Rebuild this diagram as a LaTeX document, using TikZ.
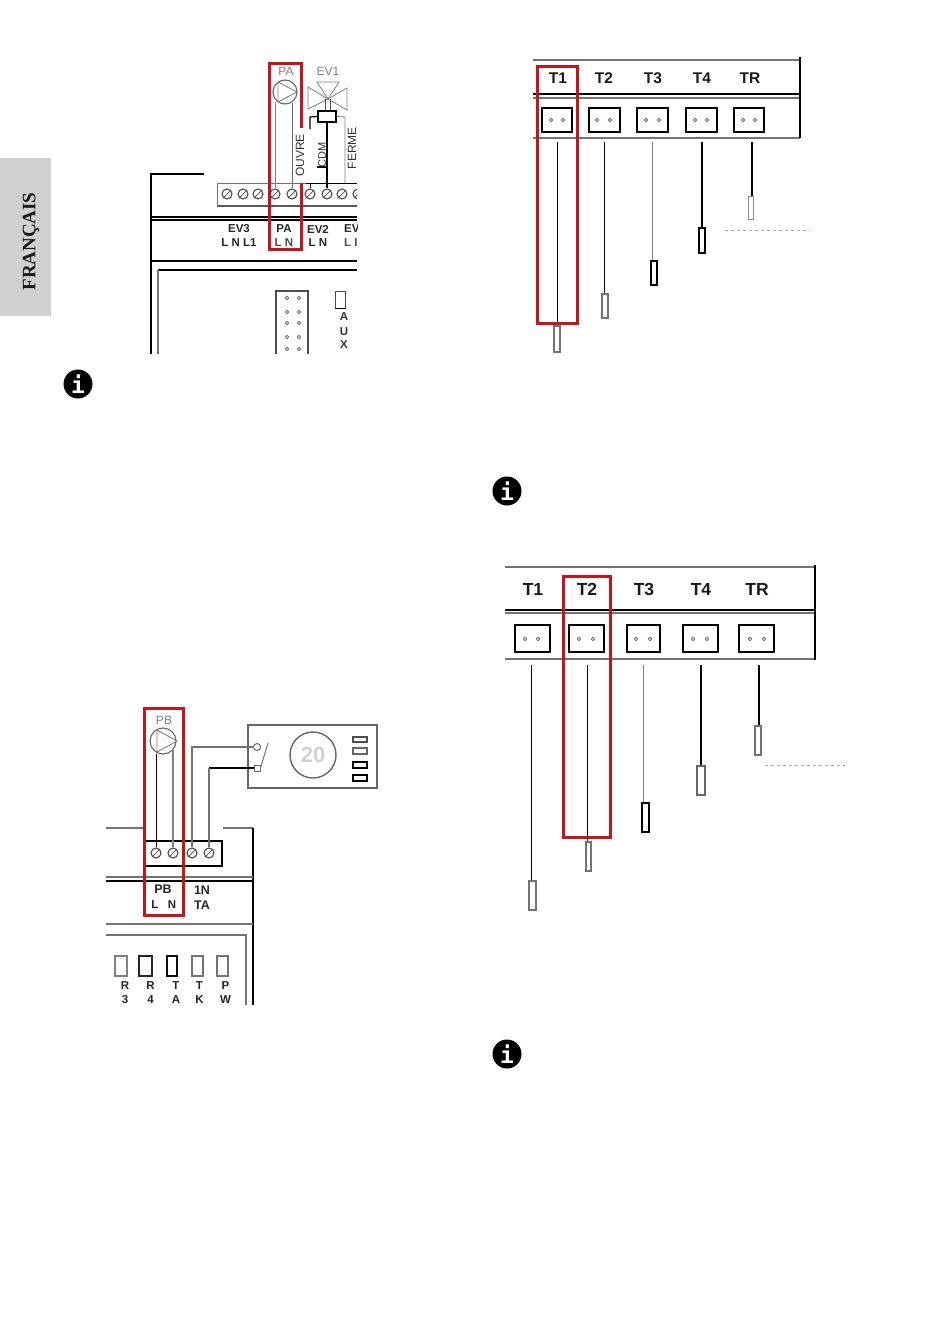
\documentclass[tikz,border=0pt]{standalone}
\usepackage{fontspec}
\usetikzlibrary{calc}
\setmainfont{Liberation Sans}
\newfontfamily\serifb{Liberation Serif}[Scale=1]
\newfontfamily\monob{DejaVu Sans Mono}
\definecolor{redbox}{HTML}{C4141C}
\definecolor{tabgray}{HTML}{D0D0D2}
\tikzset{
  x=1pt,y=-1pt,
  redframe/.style={draw=redbox,line width=3pt,fill=none},
  blk/.style={draw=black,line width=1.5pt},
  gry/.style={draw=black!55,line width=1.6pt},
  thinw/.style={draw=black,line width=0.9pt},
  thing/.style={draw=black!50,line width=0.9pt},
  thickw/.style={draw=black,line width=1.7pt},
  lab/.style={font=\bfseries\fontsize{11.5}{11.5}\selectfont,inner sep=0pt,text=black!85},
  tlab/.style={font=\bfseries\fontsize{15.5}{15.5}\selectfont,inner sep=0pt,text=black!90},
  tlabb/.style={font=\bfseries\fontsize{17.5}{17.5}\selectfont,inner sep=0pt,text=black!90},
  glab/.style={font=\fontsize{12}{12}\selectfont,inner sep=0pt,text=black!50},
  dotg/.style={circle,draw=black!55,line width=0.9pt,minimum size=3.6pt,inner sep=0pt},
  screw/.style={circle,draw=black!70,line width=1.1pt,minimum size=10pt,inner sep=0pt},
  slash/.style={draw=black!70,line width=0.7pt},
  faint/.style={draw=black!35,line width=0.6pt,dash pattern=on 3pt off 3pt},
  info/.style={circle,fill=black,minimum size=29pt,inner sep=0pt,text=white,font=\monob\bfseries\fontsize{23}{23}\selectfont},
}
\newcommand{\bx}[7][]{% style name x1 x2 y1 y2
  \node[rectangle,inner sep=0pt,#1,minimum width={(#4-#3)*1pt},minimum height={(#6-#5)*1pt}] (#2) at ({(#3+#4)/2},{(#5+#6)/2}) {#7};}
\newcommand{\termbox}[8]{% name x1 x2 y1 y2 dot1 dot2 dotY
  \bx[draw=black,line width=2pt]{#1}{#2}{#3}{#4}{#5}{}
  \node[dotg] (#1a) at (#6,#8) {};
  \node[dotg] (#1b) at (#7,#8) {};}
\begin{document}
\begin{tikzpicture}
\useasboundingbox (0,0) rectangle (950,1344);
\fill[white] (0,0) rectangle (950,1344);

% side tab
\bx[fill=tabgray]{tab}{0}{51}{158}{316}{}
\node[rotate=90,inner sep=0pt,text=black!90,font=\serifb\bfseries\fontsize{19}{19}\selectfont] (fr) at (31,241.5) {FRANÇAIS};

% info icons
\node[info] (i1) at (78,384) {i};
\node[info] (i2) at (507,491) {i};
\node[info] (i3) at (507,1054) {i};

% ===== top-left diagram =====
\begin{scope}
\clip (140,50) rectangle (357,354);
\draw[blk] (204,174) -- (151,174) -- (151,354);
\draw[blk] (151,217) -- (357,217);
\draw[blk] (151,220) -- (357,220);
\draw[blk] (151,261) -- (357,261);
\draw[blk] (158,270) -- (357,270);
\draw[gry] (158,270) -- (158,354);
% strip
\draw[gry,line width=1pt] (217,207) -- (217,183) -- (357,183);
\draw[draw=black!65,line width=2.5pt] (217,206) -- (357,206);
\foreach \n/\xx in {s1/227,s2/243,s3/258,s4/275,s5/292,s6/310,s7/327,s8/342,s9/358}{
  \node[screw] (\n) at (\xx,194) {};
  \draw[slash] (\n.south west) -- (\n.north east);
}
% labels
\node[lab] (ev3) at (239,229) {EV3};
\node[lab] (ev3l) at (239,243) {L N L1};
\node[lab] (pal) at (284,229) {PA};
\node[lab,text=black!70] (pan) at (284,243) {L N};
\node[lab] (ev2) at (318,229) {EV2};
\node[lab] (ev2l) at (318,243) {L N};
\node[lab,anchor=west] (evx) at (344,229) {EV};
\node[lab,anchor=west,text=black!70] (evxl) at (344,243) {L I};
% connector block
\draw[draw=black!70,line width=2pt] (276,354) -- (276,291) -- (308,291) -- (308,354);
\foreach \n/\xx/\yy in {c1/287/298,c2/299/298,c3/287/312,c4/299/312,c5/287/323,c6/299/323,c7/287/337,c8/299/337,c9/287/349,c10/299/349}
  \node[dotg] (\n) at (\xx,\yy) {};
\bx[draw=black!70,line width=1pt]{aux}{335}{345}{291}{308}{}
\draw[blk] (aux.south west) -- (aux.south east);
\node[lab,text=black!80] (auxa) at (344,317) {A};
\node[lab,text=black!80] (auxu) at (344,332) {U};
\node[lab,text=black!80] (auxx) at (344,345) {X};
\end{scope}

% pump PA
\node[glab] (patxt) at (286,71) {PA};
\node[circle,draw=black!60,line width=1.1pt,minimum size=24pt,inner sep=0pt] (pa) at (285,92) {};
\draw[thing] (278,82) -- (278,102) -- (297,92) -- cycle;
\draw[thing] (s4.north) -- (s4.north |- pa.-125);
\draw[thing,draw=black!60] (s5.north) -- (s5.north |- pa.-60);
% valve EV1
\node[glab] (evtxt) at (328,71) {EV1};
\coordinate (vc) at (328,99);
\draw[draw=black!50,line width=0.8pt] (308,87) -- (308,109) -- (vc) -- cycle;
\draw[draw=black!50,line width=0.8pt] (347,88) -- (347,110) -- (vc) -- cycle;
\draw[draw=black!50,line width=0.8pt] (317,82) -- (339,82) -- (vc) -- cycle;
\draw[draw=black!70,line width=0.9pt] (325,99) -- (325,111) (330,99) -- (330,111);
\bx[draw=black,line width=1.2pt,fill=white]{act}{318}{336}{111}{122}{}
\draw[thickw,line width=1.2pt] (act.west) -- (310,117) -- (310,129);
\draw[thing] (act.east) -- (345,117) -- (345,183);
\draw[thickw] (act.south) -- (s7.north);
\draw[thinw] (s6.north) -- (310,183);
\draw[thickw,line width=1.2pt] (317,167) -- (327,167);
\draw[draw=black,line width=1pt] (306,183) -- (357,183);

% red frame PA
\draw[redframe] (269,63) rectangle (301,249);
% texts on white strips
\bx[fill=white]{ouvbg}{294}{306}{128}{183}{}
\node[rotate=90,inner sep=0pt,text=black!80,font=\fontsize{12}{12}\selectfont] (ouvre) at (ouvbg.center) {OUVRE};
\node[rotate=90,inner sep=0pt,text=black!80,font=\fontsize{11}{11}\selectfont] (cdm) at (322,155) {CDM};
\node[rotate=90,inner sep=1pt,fill=white,text=black!80,font=\fontsize{12}{12}\selectfont] (ferme) at (352,148) {FERME};

% ===== bottom-left diagram =====
\draw[gry] (106,828) -- (144,828);
\draw[gry] (223,828) -- (253,828);
\draw[blk] (253,828) -- (253,1005);
\draw[gry] (106,877) -- (253,877);
\draw[blk] (106,881) -- (253,881);
\draw[gry] (106,924) -- (253,924);
\draw[gry] (106,935) -- (246,935) -- (246,1005);
\bx[draw=black,line width=1.3pt]{tb}{145}{222}{841}{866}{}
\foreach \n/\xx in {p1/156,p2/173,p3/192,p4/209}{
  \node[screw] (\n) at (\xx,853) {};
  \draw[slash] (\n.south west) -- (\n.north east);
}
% pump PB
\node[glab] (pbtxt) at (164,720) {PB};
\node[circle,draw=black!60,line width=1.1pt,minimum size=26pt,inner sep=0pt] (pb) at (163,741) {};
\draw[thing] (157,730) -- (157,752) -- (177,741) -- cycle;
\draw[thinw] (p1.north) -- (p1.north |- pb.-110);
\draw[thing,line width=1.2pt] (p2.north) -- (p2.north |- pb.-40);
% thermostat
\bx[draw=black!60,line width=1.3pt]{ta}{248}{377}{725}{788}{}
\node[circle,draw=black!60,line width=1.4pt,minimum size=46pt,inner sep=0pt,text=black!18,font=\bfseries\fontsize{22}{22}\selectfont] (dial) at (313,755) {20};
\bx[draw=black!70,line width=1.2pt]{l1}{353}{367}{737}{742}{}
\bx[draw=black!60,line width=1.2pt]{l2}{353}{367}{748}{754}{}
\bx[draw=black,line width=1.2pt]{l3}{353}{367}{762}{768}{}
\bx[draw=black,line width=1.2pt]{l4}{353}{367}{775}{781}{}
\node[circle,draw=black!60,line width=1pt,minimum size=7pt,inner sep=0pt] (c1t) at (257,747) {};
\node[rectangle,draw=black!60,line width=1pt,minimum size=6pt,inner sep=0pt] (c2t) at (257,768) {};
\draw[thing,line width=1.1pt] (c2t.east) -- (268,743);
\draw[gry,line width=1.2pt] (c1t.west) -| (p3.north);
\draw[draw=black,line width=1.2pt] (c2t.west) -- (209,768);
\draw[gry,line width=1.2pt] (209,768) -- (p4.north);
% labels
\node[lab,font=\bfseries\fontsize{12.5}{12.5}\selectfont] (pbl) at (163,889) {PB};
\node[lab] (lL) at (155,905) {L};
\node[lab] (lN) at (172,905) {N};
\node[lab,font=\bfseries\fontsize{12.5}{12.5}\selectfont] (inl) at (202,890) {1N};
\node[lab,font=\bfseries\fontsize{12.5}{12.5}\selectfont] (tal) at (202,905) {TA};
\foreach \n/\a/\b/\c/\d/\col/\off in {r3/115/127/R/3/50/4,r4/139/152/R/4/85/5,ta2/167/177/T/A/95/4,tk/192/203/T/K/55/2,pw/217/228/P/W/55/3}{
  \bx[draw=black!\col,line width=1.4pt]{\n}{\a}{\b}{956}{976}{}
  \node[lab] (\n t) at ($(\n.center)+(\off,20)$) {\c};
  \node[lab] (\n u) at ($(\n.center)+(\off,34)$) {\d};
}
\draw[redframe] (144,708) rectangle (183,915);

% ===== top-right sensors =====
\draw[gry] (533,60) -- (800,60);
\draw[blk,line width=1.8pt] (533,94) -- (800,94);
\draw[gry] (533,98) -- (800,98);
\draw[gry] (533,138) -- (800,138);
\draw[blk] (800,57) -- (800,138);
\node[tlab] (a1) at (558,78) {T1};
\node[tlab] (a2) at (604,78) {T2};
\node[tlab] (a3) at (653,78) {T3};
\node[tlab] (a4) at (702,78) {T4};
\node[tlab] (a5) at (750,78) {TR};
\termbox{ab1}{542}{572}{108}{132}{551}{563}{120}
\termbox{ab2}{589}{620}{108}{132}{597}{610}{120}
\termbox{ab3}{637}{668}{108}{132}{646}{659}{120}
\termbox{ab4}{686}{717}{108}{132}{695}{707}{120}
\termbox{ab5}{734}{764}{108}{132}{743}{755}{120}
\bx[draw=black!55,line width=1.2pt]{ap1}{554}{560}{326}{352}{}
\bx[draw=black!55,line width=1.2pt]{ap2}{602}{608}{294}{318}{}
\bx[draw=black,line width=1.4pt]{ap3}{651}{657}{261}{285}{}
\bx[draw=black,line width=1.2pt]{ap4}{699}{705}{228}{253}{}
\bx[draw=black!45,line width=1pt]{ap5}{748}{753}{196}{219}{}
\coordinate (aw1) at (557,142);
\coordinate (aw2) at (604,142);
\coordinate (aw3) at (652,142);
\coordinate (aw4) at (702,142);
\coordinate (aw5) at (752,142);
\draw[thinw] (aw1) -- (aw1 |- ap1.north);
\draw[thinw] (aw2) -- (aw2 |- ap2.north);
\draw[thing] (aw3) -- (aw3 |- ap3.north);
\draw[thickw] (aw4) -- (aw4 |- ap4.north);
\draw[thickw] (aw5) -- (aw5 |- ap5.north);
\draw[faint] (725,230) -- (810,230);
\draw[redframe] (537,66) rectangle (577,323);

% ===== bottom-right sensors =====
\draw[gry] (505,567) -- (815,567);
\draw[blk,line width=1.1pt] (505,610) -- (815,610);
\draw[gry] (505,613) -- (815,613);
\draw[gry] (505,659) -- (815,659);
\draw[blk] (815,565) -- (815,660);
\node[tlabb] (b1) at (533,589) {T1};
\node[tlabb] (b2) at (587,589) {T2};
\node[tlabb] (b3) at (644,589) {T3};
\node[tlabb] (b4) at (701,589) {T4};
\node[tlabb] (b5) at (757,589) {TR};
\termbox{bb1}{515}{550}{625}{652}{525}{538}{639}
\termbox{bb2}{569}{604}{625}{652}{579}{593}{639}
\termbox{bb3}{627}{660}{625}{652}{636}{650}{639}
\termbox{bb4}{683}{718}{625}{652}{693}{707}{639}
\termbox{bb5}{739}{774}{625}{652}{750}{764}{639}
\bx[draw=black!55,line width=1.2pt]{bp1}{529}{536}{881}{910}{}
\bx[draw=black!55,line width=1.2pt]{bp2}{586}{591}{842}{871}{}
\bx[draw=black,line width=1.4pt]{bp3}{642}{649}{803}{832}{}
\bx[draw=black!60,line width=1.2pt]{bp4}{697}{705}{766}{795}{}
\bx[draw=black!55,line width=1.2pt]{bp5}{755}{761}{726}{755}{}
\coordinate (bw1) at (531,665);
\coordinate (bw2) at (587,665);
\coordinate (bw3) at (643,665);
\coordinate (bw4) at (701,665);
\coordinate (bw5) at (759,665);
\draw[thinw] (bw1) -- (bw1 |- bp1.north);
\draw[thinw] (bw2) -- (bw2 |- bp2.north);
\draw[thing] (bw3) -- (bw3 |- bp3.north);
\draw[thickw] (bw4) -- (bw4 |- bp4.north);
\draw[thickw] (bw5) -- (bw5 |- bp5.north);
\draw[faint] (765,765) -- (845,765);
\draw[redframe] (563,576) rectangle (610,837);
\end{tikzpicture}
\end{document}
